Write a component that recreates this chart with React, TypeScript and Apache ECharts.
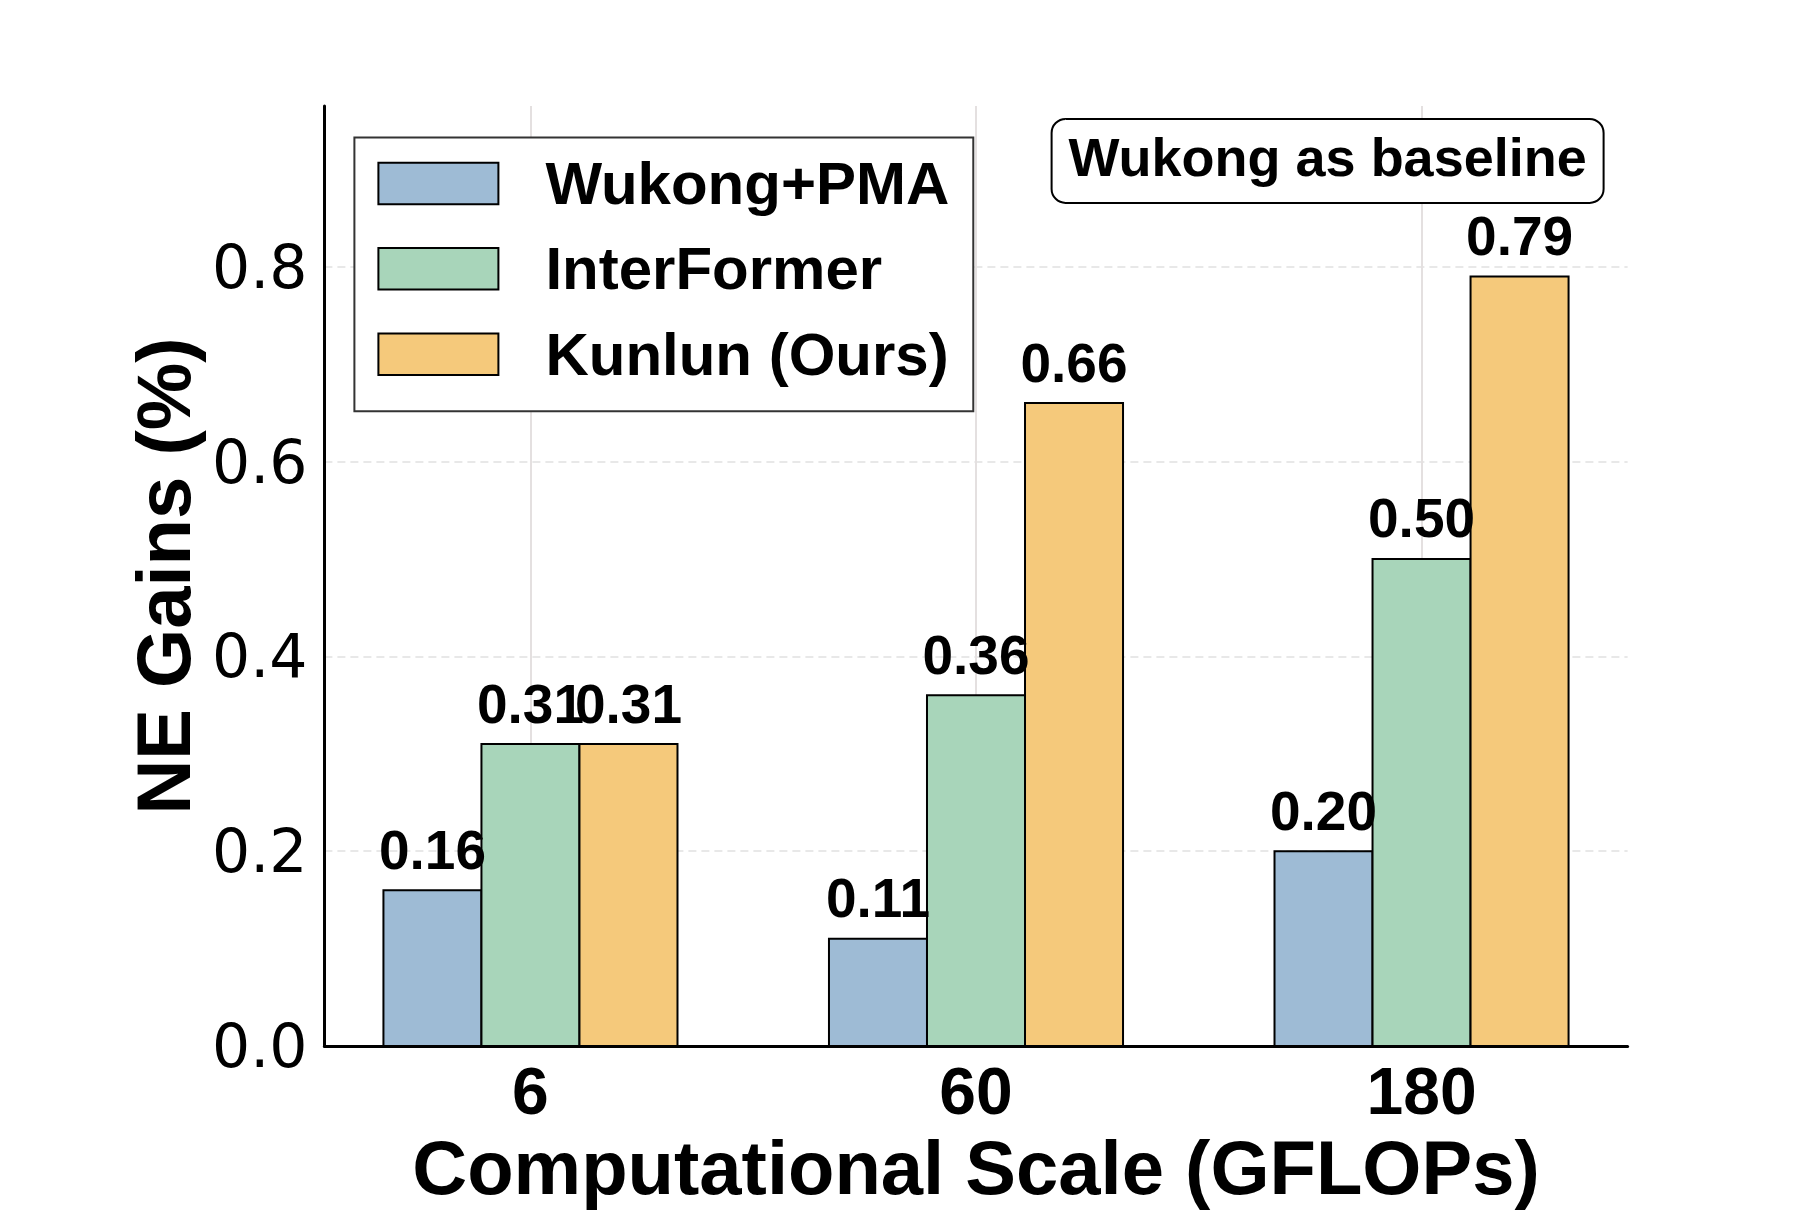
import React, { useEffect, useRef } from 'react';
import * as echarts from 'echarts';

// Computational scale groups (GFLOPs)
const categories = ['6', '60', '180'];
const seriesNames = ['Wukong+PMA', 'InterFormer', 'Kunlun (Ours)'];

// NE gains (%) relative to Wukong
const wukongPma = [0.16, 0.11, 0.2];
const interFormer = [0.31, 0.36, 0.5];
const kunlun = [0.31, 0.66, 0.79];

const yTicks = [0, 0.2, 0.4, 0.6, 0.8];
const xTicks = [0, 1, 2];

const colors = ['#9EBBD5', '#A8D5BA', '#F5C97B'];

const BAR_W = 0.22;
const BOLD_FONT = "'Liberation Sans', Arial, sans-serif";
const TICK_FONT = "'DejaVu Sans', sans-serif";

const makeRenderItem = (offset: number, color: string) => (params: any, api: any) => {
  const cx = api.value(0) + offset;
  const v = api.value(1);
  const tl = api.coord([cx - BAR_W / 2, v]);
  const br = api.coord([cx + BAR_W / 2, 0]);
  const top = api.coord([cx, v]);
  return {
    type: 'group',
    children: [
      {
        type: 'rect',
        shape: { x: tl[0], y: tl[1], width: br[0] - tl[0], height: br[1] - tl[1] },
        style: { fill: color, stroke: '#000', lineWidth: 2 },
      },
      {
        type: 'text',
        x: top[0],
        y: top[1] - 13,
        z2: 100,
        style: {
          text: v.toFixed(2),
          fill: '#000',
          fontSize: 55,
          fontWeight: 'bold',
          fontFamily: BOLD_FONT,
          align: 'center',
          verticalAlign: 'bottom',
        },
      },
    ],
  };
};

const seriesValues = [wukongPma, interFormer, kunlun];

export default function App() {
  const ref = useRef<HTMLDivElement>(null);

  useEffect(() => {
    if (!ref.current) return;
    const chart = echarts.init(ref.current, null, { renderer: 'svg' });

    const series = seriesValues.map((vals, s) => ({
      name: seriesNames[s],
      type: 'custom',
      z: 2,
      itemStyle: { color: colors[s], borderColor: '#000', borderWidth: 2 },
      encode: { x: 0, y: 1 },
      data: vals.map((v, j) => [j, v]),
      renderItem: makeRenderItem((s - 1) * BAR_W, colors[s]),
    }));

    chart.setOption({
      animation: false,
      backgroundColor: '#fff',
      grid: { left: 324.4, right: 182.4, top: 106, bottom: 159.6, containLabel: false },
      title: {
        text: 'Wukong as baseline',
        left: 1051.6,
        top: 118.9,
        padding: [11, 17, 19, 17],
        borderWidth: 2,
        borderColor: '#000',
        borderRadius: 14,
        backgroundColor: '#fff',
        textStyle: {
          fontSize: 54,
          fontWeight: 'bold',
          fontFamily: BOLD_FONT,
          color: '#000',
          lineHeight: 54,
        },
      },
      legend: {
        data: seriesNames,
        orient: 'vertical',
        left: 354.4,
        top: 137.4,
        padding: [16, 24, 27, 23],
        itemGap: 25.4,
        itemWidth: 120,
        itemHeight: 41.5,
        icon: 'rect',
        backgroundColor: '#fff',
        borderColor: '#333',
        borderWidth: 2,
        borderRadius: 0,
        itemStyle: { borderColor: '#000', borderWidth: 2 },
        textStyle: {
          fontSize: 60,
          fontWeight: 'bold',
          fontFamily: BOLD_FONT,
          color: '#000',
          lineHeight: 60,
          padding: [0, 0, 0, 42],
        },
      },
      xAxis: {
        type: 'value',
        min: -0.4625,
        max: 2.4625,
        name: 'Computational Scale (GFLOPs)',
        nameLocation: 'middle',
        nameGap: 83,
        nameTextStyle: {
          fontSize: 76,
          fontWeight: 'bold',
          fontFamily: BOLD_FONT,
          color: '#000',
          lineHeight: 76,
        },
        axisLine: { show: true, onZero: false, lineStyle: { color: '#000', width: 3 } },
        axisTick: { show: false, customValues: xTicks },
        axisLabel: {
          customValues: xTicks,
          formatter: (v: number) => categories[Math.round(v)] ?? '',
          fontSize: 66,
          fontWeight: 'bold',
          fontFamily: BOLD_FONT,
          color: '#000',
          lineHeight: 66,
          margin: 12,
        },
        splitLine: { show: true, lineStyle: { color: '#e4e0e0', width: 2, type: 'solid' } },
      },
      yAxis: {
        type: 'value',
        min: 0,
        max: 0.965,
        name: 'NE Gains (%)',
        nameLocation: 'middle',
        nameGap: 123,
        nameTextStyle: {
          fontSize: 76,
          fontWeight: 'bold',
          fontFamily: BOLD_FONT,
          color: '#000',
          lineHeight: 76,
        },
        axisLine: { show: true, onZero: false, lineStyle: { color: '#000', width: 3 } },
        axisTick: { show: false, customValues: yTicks },
        axisLabel: {
          customValues: yTicks,
          formatter: (v: number) => v.toFixed(1),
          fontSize: 60,
          fontFamily: TICK_FONT,
          color: '#000',
          margin: 17,
        },
        splitLine: { show: true, lineStyle: { color: '#e8e8e8', width: 2, type: [8, 5] } },
      },
      series,
    });

    return () => chart.dispose();
  }, []);

  return (
    <div
      ref={ref}
      style={{ position: 'absolute', left: 0, top: 0, width: 1810, height: 1210 }}
    />
  );
}
